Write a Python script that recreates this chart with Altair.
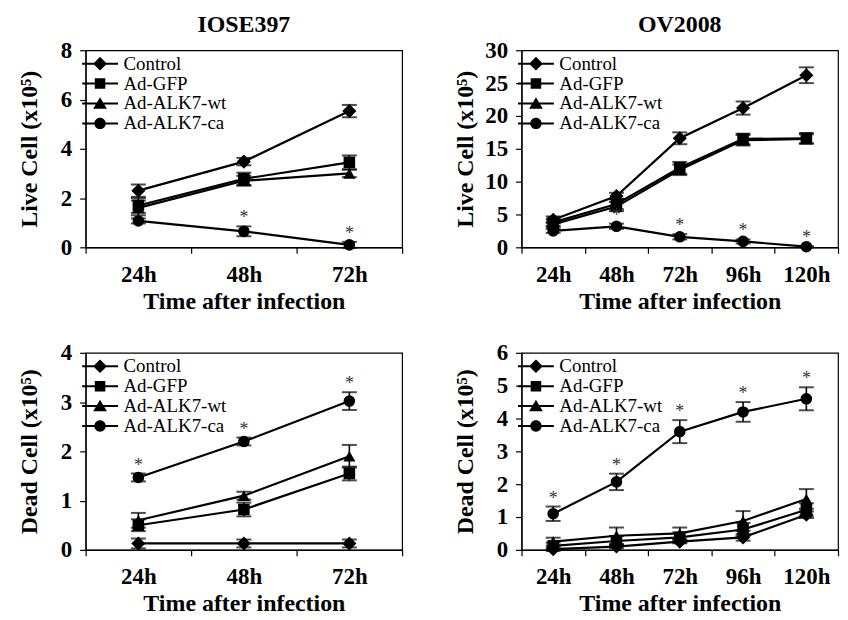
import altair as alt
import pandas as pd

FONT = "Liberation Serif"
SERIES = ["Control", "Ad-GFP", "Ad-ALK7-wt", "Ad-ALK7-ca"]
T3 = ["24h", "48h", "72h"]
T5 = ["24h", "48h", "72h", "96h", "120h"]

# ---- IOSE397 live cells (x10^5) ----
iose_live = [
    [2.30, 3.48, 5.53],   # Control
    [1.70, 2.78, 3.45],   # Ad-GFP
    [1.60, 2.70, 3.00],   # Ad-ALK7-wt
    [1.07, 0.65, 0.10],   # Ad-ALK7-ca
]
iose_live_err = [
    [0.25, 0.15, 0.25],
    [0.30, 0.25, 0.28],
    [0.30, 0.20, 0.15],
    [0.10, 0.20, 0.12],
]
iose_live_star = ["", "*", "*"]

# ---- OV2008 live cells (x10^5) ----
ov_live = [
    [4.2, 7.8, 16.6, 21.2, 26.2],
    [3.8, 6.6, 12.1, 16.5, 16.6],
    [3.5, 6.2, 11.8, 16.3, 16.5],
    [2.5, 3.2, 1.6, 0.9, 0.1],
]
ov_live_err = [
    [0.5, 0.5, 0.9, 1.0, 1.2],
    [0.5, 0.8, 0.9, 0.8, 0.8],
    [0.4, 0.7, 0.8, 0.8, 0.7],
    [0.3, 0.4, 0.4, 0.3, 0.1],
]
ov_live_star = ["", "*", "*", "*", "*"]

# ---- IOSE397 dead cells (x10^5) ----
iose_dead = [
    [0.13, 0.13, 0.13],
    [0.50, 0.82, 1.55],
    [0.60, 1.10, 1.90],
    [1.47, 2.20, 3.02],
]
iose_dead_err = [
    [0.10, 0.08, 0.08],
    [0.12, 0.14, 0.14],
    [0.15, 0.08, 0.23],
    [0.08, 0.08, 0.18],
]
iose_dead_star = ["*", "*", "*"]

# ---- OV2008 dead cells (x10^5) ----
ov_dead = [
    [0.02, 0.10, 0.25, 0.38, 1.07],
    [0.12, 0.27, 0.38, 0.62, 1.22],
    [0.25, 0.43, 0.50, 0.88, 1.55],
    [1.10, 2.07, 3.60, 4.20, 4.60],
]
ov_dead_err = [
    [0.05, 0.05, 0.05, 0.10, 0.10],
    [0.10, 0.15, 0.15, 0.20, 0.20],
    [0.12, 0.25, 0.18, 0.30, 0.30],
    [0.22, 0.25, 0.35, 0.30, 0.35],
]
ov_dead_star = ["*", "*", "*", "*", "*"]

SHAPES = ["diamond", "square", "triangle-up", "circle"]
SIZES = [200, 135, 150, 135]

# legend glyphs: a short line with the marker in its middle (unit = 6 px)
LINE = "M-3,-0.17L3,-0.17L3,0.17L-3,0.17Z"
LEG_PATHS = [
    LINE + "M0,-1.15L1.15,0L0,1.15L-1.15,0Z",
    LINE + "M-0.88,-0.88L0.88,-0.88L0.88,0.88L-0.88,0.88Z",
    LINE + "M0,-1.05L1.15,0.88L-1.15,0.88Z",
    LINE + "M-0.95,0A0.95,0.95,0,1,1,0.95,0A0.95,0.95,0,1,1,-0.95,0Z",
]

PW, PH = 318, 198


def panel(times, vals, errs, stars, ymax, ystep, ytitle, title=None):
    rows = []
    for s, v, e in zip(SERIES, vals, errs):
        for i, t in enumerate(times):
            rows.append({
                "t": t, "idx": i, "series": s, "v": v[i],
                "lo": v[i] - e[i], "hi": v[i] + e[i],
                "star": stars[i] if s == "Ad-ALK7-ca" else "",
            })
    df = pd.DataFrame(rows)

    xs = alt.Scale(type="band", domain=times, paddingInner=0, paddingOuter=0)
    xa = alt.Axis(title="Time after infection", tickBand="extent", labelAngle=0,
                  labelPadding=10, titlePadding=3)
    ys = alt.Scale(domain=[0, ymax], nice=False, zero=True)
    ya = alt.Axis(title=ytitle, values=list(range(0, ymax + 1, ystep)),
                  titleX=-56, titleBaseline="middle")

    def X():
        return alt.X("t:N", sort=times, scale=xs, axis=xa)

    def Y(f):
        return alt.Y(f, scale=ys, axis=ya)

    base = alt.Chart(df)
    layers = []
    layers.append(base.mark_line(color="black", strokeWidth=2.2).encode(
        x=X(), y=Y("v:Q"), detail="series:N", order="idx:Q"))
    layers.append(base.mark_rule(color="black", strokeWidth=1.6).encode(
        x=X(), y=Y("lo:Q"), y2="hi:Q"))
    layers.append(base.mark_tick(color="black", size=15, thickness=2).encode(
        x=X(), y=Y("lo:Q")))
    layers.append(base.mark_tick(color="black", size=15, thickness=2).encode(
        x=X(), y=Y("hi:Q")))
    for s, sh, sz in zip(SERIES, SHAPES, SIZES):
        layers.append(base.transform_filter(alt.datum.series == s).mark_point(
            shape=sh, size=sz, filled=True, color="black", opacity=1).encode(
            x=X(), y=Y("v:Q")))
    layers.append(base.transform_filter("datum.star != ''").mark_text(
        font=FONT, fontSize=18, color="#333333", baseline="alphabetic", dy=-3).encode(
        x=X(), y=Y("hi:Q"), text="star:N"))
    layers.append(base.mark_point(opacity=0, filled=True, color="black").encode(
        x=X(), y=Y("v:Q"),
        shape=alt.Shape("series:N", scale=alt.Scale(domain=SERIES, range=LEG_PATHS),
                        legend=alt.Legend(orient="none", legendX=5, legendY=4, title=None,
                                          symbolSize=144, symbolFillColor="black",
                                          symbolStrokeColor="black",
                                          symbolStrokeWidth=0, symbolOpacity=1,
                                          labelFont=FONT, labelFontSize=19,
                                          labelColor="black", labelOffset=14,
                                          rowPadding=0, padding=0))))
    ch = alt.layer(*layers).properties(width=PW, height=PH)
    if title:
        ch = ch.properties(title=alt.TitleParams(title, font=FONT, fontSize=24,
                                                 fontWeight="bold", color="black", offset=2))
    return ch


p1 = panel(T3, iose_live, iose_live_err, iose_live_star, 8, 2, "Live Cell (x10⁵)", "IOSE397")
p2 = panel(T5, ov_live, ov_live_err, ov_live_star, 30, 5, "Live Cell (x10⁵)", "OV2008")
p3 = panel(T3, iose_dead, iose_dead_err, iose_dead_star, 4, 1, "Dead Cell (x10⁵)")
p4 = panel(T5, ov_dead, ov_dead_err, ov_dead_star, 6, 1, "Dead Cell (x10⁵)")

row1 = alt.hconcat(p1, p2, spacing=49).resolve_scale(shape="independent").resolve_legend(shape="independent")
row2 = alt.hconcat(p3, p4, spacing=49).resolve_scale(shape="independent").resolve_legend(shape="independent")

chart = alt.vconcat(row1, row2, spacing=27).resolve_scale(shape="independent").resolve_legend(
    shape="independent").properties(
    padding={"left": 9, "top": 3, "right": 0, "bottom": 0}
).configure(font=FONT).configure_view(stroke="black", strokeWidth=1.2).configure_axis(
    labelFont=FONT, labelFontSize=23, labelFontWeight="bold", labelColor="black",
    titleFont=FONT, titleFontSize=24, titleFontWeight="bold", titleColor="black",
    tickColor="black", domainColor="black", tickSize=6, labelPadding=8,
    titlePadding=4, grid=False, domainWidth=1.2, tickWidth=1.2
).configure_legend(
    labelFont=FONT, labelFontSize=19, labelColor="black", labelFontWeight="normal"
)

chart.save("out.html", embed_options={"renderer": "svg", "actions": False})
